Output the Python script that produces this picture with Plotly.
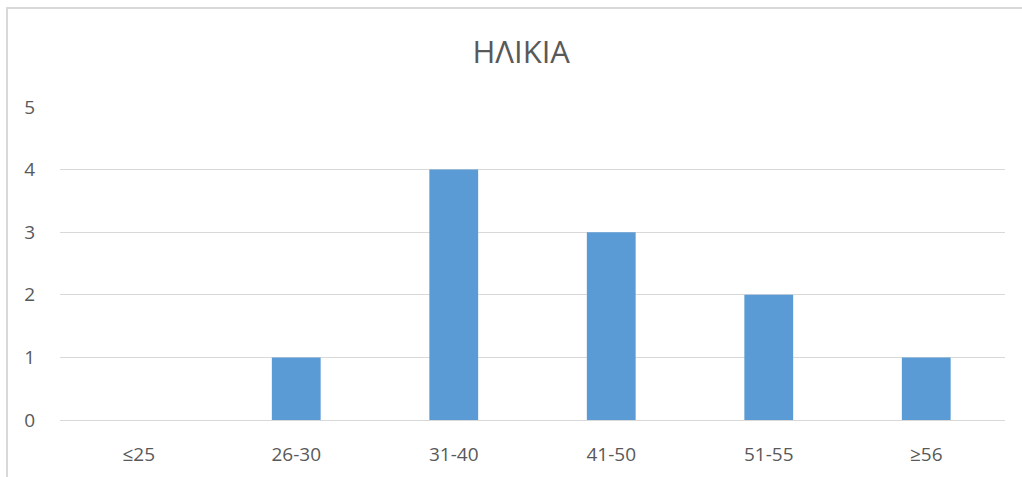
import plotly.graph_objects as go

categories = ["≤25", "26-30", "31-40", "41-50", "51-55", "≥56"]
values = [0, 1, 4, 3, 2, 1]
y_ticks = [0, 1, 2, 3, 4, 5]
title_text = "ΗΛΙΚΙΑ"

fig = go.Figure(go.Bar(x=categories, y=values, marker=dict(color="#5B9BD5", line=dict(width=0)),
                       hoverinfo="x+y"))

fig.update_layout(
    width=1022, height=477,
    margin=dict(l=60, r=17, t=107, b=57),
    paper_bgcolor="white", plot_bgcolor="white",
    bargap=0.69,
    showlegend=False,
    font=dict(family="Open Sans, Noto Sans, sans-serif", color="#595959", size=19),
    title=dict(text=title_text, x=0.51, xref="container", xanchor="center",
               y=1 - 52 / 477, yref="container", yanchor="middle",
               font=dict(size=31, color="#595959")),
    xaxis=dict(showgrid=False, showline=False, ticks="outside", ticklen=17, tickcolor="rgba(0,0,0,0)",
               tickfont=dict(size=19, color="#595959"), fixedrange=True, automargin=False),
    yaxis=dict(range=[0, 5], tickvals=y_ticks, showgrid=True, gridcolor="#D9D9D9", gridwidth=1,
               zeroline=True, zerolinecolor="#D9D9D9", zerolinewidth=1,
               ticks="outside", ticklen=20, tickcolor="rgba(0,0,0,0)",
               tickfont=dict(size=19, color="#595959"), fixedrange=True, automargin=False),
    shapes=[dict(type="rect", xref="paper", yref="paper",
                 x0=-53 / 945, x1=1.02, y0=-0.3, y1=(420 - 8) / 313,
                 line=dict(color="#D9D9D9", width=2), fillcolor="rgba(0,0,0,0)", layer="below")],
)

fig.write_html("out.html")
